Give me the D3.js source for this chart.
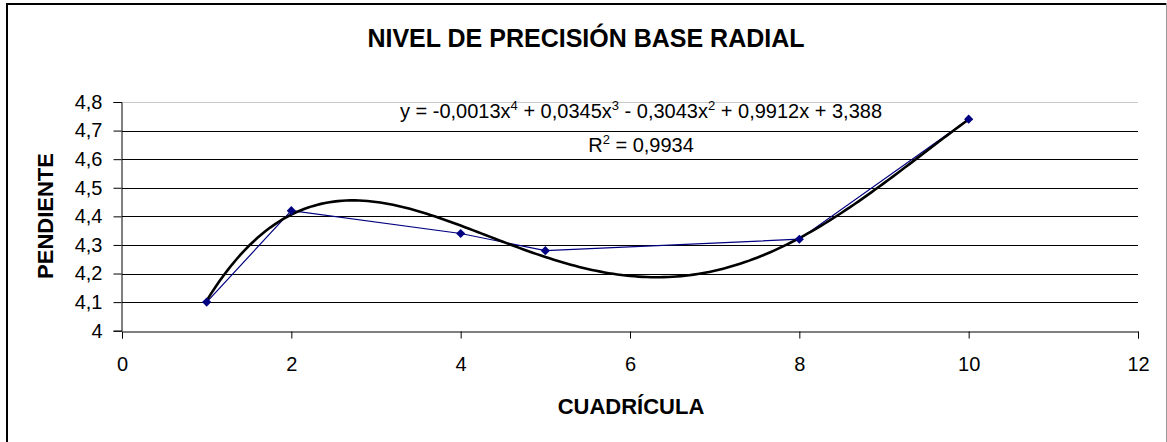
<!DOCTYPE html>
<html><head><meta charset="utf-8">
<script src="https://cdn.jsdelivr.net/npm/d3@7"></script>
<style>body{margin:0;background:#fff}svg{display:block}text{font-family:"Liberation Sans",Arial,sans-serif}</style>
</head><body><svg id="c" width="1167" height="442"></svg>
<script>
const xValues = [1, 2, 4, 5, 8, 10];
const yValues = [4.1, 4.42, 4.34, 4.28, 4.32, 4.74];
const xTicks = [0, 2, 4, 6, 8, 10, 12];
const yTicks = [4, 4.1, 4.2, 4.3, 4.4, 4.5, 4.6, 4.7, 4.8];
const title = "NIVEL DE PRECISIÓN BASE RADIAL";
const xTitle = "CUADRÍCULA";
const yTitle = "PENDIENTE";
const eqParts = [["y = -0,0013x",0],["4",1],[" + 0,0345x",0],["3",1],[" - 0,3043x",0],["2",1],[" + 0,9912x + 3,388",0]];
const r2Parts = [["R",0],["2",1],[" = 0,9934",0]];

const svg = d3.select("#c");
svg.append("path").attr("d","M7,446V4H1166").attr("fill","none").attr("stroke","#000").attr("stroke-width",2);
svg.append("line").attr("x1",1166.5).attr("x2",1166.5).attr("y1",3).attr("y2",442).attr("stroke","#999").attr("stroke-width",1);

const x = d3.scaleLinear().domain([0,12]).range([122,1138]);
const y = d3.scaleLinear().domain([4,4.8]).range([330.7,102]);
const fmt = d => d3.format(".1f")(d).replace(".",",").replace(/,0$/,"");

svg.append("g").selectAll("line").data(yTicks.slice(1)).join("line")
  .attr("x1",x(0)).attr("x2",x(12)).attr("y1",d=>Math.round(y(d))+0.5).attr("y2",d=>Math.round(y(d))+0.5)
  .attr("stroke",d=>d===4.8?"#c8c8c8":"#000").attr("stroke-width",1);

const xAxis = svg.append("g").attr("transform",`translate(0,${Math.round(y(4))+0.5})`)
  .call(d3.axisBottom(x).tickValues(xTicks).tickSize(7).tickPadding(18).tickFormat(d=>d));
const yAxis = svg.append("g").attr("transform",`translate(${x(0)-0.5},0)`)
  .call(d3.axisLeft(y).tickValues(yTicks).tickSize(8).tickPadding(11).tickFormat(fmt));
[xAxis,yAxis].forEach(a=>{
  a.select(".domain").attr("stroke","#000");
  a.selectAll(".tick line").attr("stroke","#000");
  a.selectAll("text").attr("font-size",20).attr("fill","#000").style("font-family","'Liberation Sans',Arial,sans-serif");
});

// least-squares 4th-order polynomial trendline computed from the data
function polyfit(xs, ys, deg){
  const n = deg+1, A = [], b = [];
  for(let i=0;i<n;i++){ A.push(new Array(n).fill(0)); b.push(0); }
  xs.forEach((xv,k)=>{
    for(let i=0;i<n;i++){
      for(let j=0;j<n;j++) A[i][j]+=Math.pow(xv,i+j);
      b[i]+=ys[k]*Math.pow(xv,i);
    }
  });
  for(let i=0;i<n;i++){
    let p=i; for(let r=i+1;r<n;r++) if(Math.abs(A[r][i])>Math.abs(A[p][i])) p=r;
    [A[i],A[p]]=[A[p],A[i]]; [b[i],b[p]]=[b[p],b[i]];
    for(let r=i+1;r<n;r++){ const f=A[r][i]/A[i][i]; for(let c=i;c<n;c++) A[r][c]-=f*A[i][c]; b[r]-=f*b[i]; }
  }
  const c=new Array(n).fill(0);
  for(let i=n-1;i>=0;i--){ let s=b[i]; for(let j=i+1;j<n;j++) s-=A[i][j]*c[j]; c[i]=s/A[i][i]; }
  return c;
}
const coef = polyfit(xValues, yValues, 4);
const poly = t => coef.reduce((s,c,i)=>s+c*Math.pow(t,i),0);

const line = d3.line().x(d=>x(d[0])).y(d=>y(d[1]));
const pts = xValues.map((v,i)=>[v,yValues[i]]);
svg.append("path").attr("d",line(pts)).attr("fill","none").attr("stroke","#000080").attr("stroke-width",1.2);

const tpts = d3.range(1,10.001,0.05).map(t=>[t,poly(t)]);
svg.append("path").attr("d",line(tpts)).attr("fill","none").attr("stroke","#000").attr("stroke-width",2.6);

svg.append("g").selectAll("path").data(pts).join("path")
  .attr("transform",d=>`translate(${x(d[0])},${y(d[1])}) rotate(45)`)
  .attr("d",d3.symbol(d3.symbolSquare, 42))
  .attr("fill","#000080");

svg.append("text").attr("x",586).attr("y",47).attr("text-anchor","middle")
  .attr("font-size",25).attr("font-weight","bold").text(title);
svg.append("text").attr("x",631).attr("y",414).attr("text-anchor","middle")
  .attr("font-size",22).attr("font-weight","bold").text(xTitle);
svg.append("text").attr("transform","translate(53,216) rotate(-90)").attr("text-anchor","middle")
  .attr("font-size",22).attr("font-weight","bold").text(yTitle);

function richText(parts, cx, by){
  const t = svg.append("text").attr("x",cx).attr("y",by).attr("text-anchor","middle").attr("font-size",20);
  let prevSup = false;
  parts.forEach(p=>{
    const ts = t.append("tspan").text(p[0]);
    if(p[1]){ ts.attr("font-size",13).attr("dy",-8); prevSup=true; }
    else { if(prevSup) ts.attr("dy",8); prevSup=false; }
  });
}
richText(eqParts, 641, 118);
richText(r2Parts, 641, 152);
</script></body></html>
